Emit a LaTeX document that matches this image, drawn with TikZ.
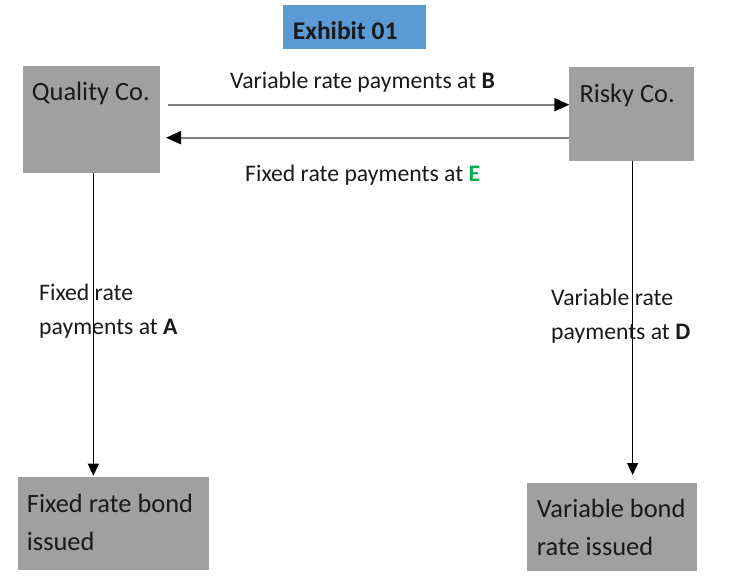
\documentclass[tikz,border=0pt]{standalone}
\usepackage{fontspec}
\setmainfont{Carlito}
\usetikzlibrary{arrows.meta,calc}
\definecolor{boxgray}{HTML}{A0A0A0}
\definecolor{titleblue}{HTML}{5B9BD5}
\definecolor{linegray}{HTML}{7F7F7F}
\definecolor{egreen}{HTML}{00B050}
\definecolor{txt}{HTML}{1A1A1A}
\begin{document}
\begin{tikzpicture}[x=1pt,y=-1pt,
  boxnode/.style={fill=boxgray, draw=none, anchor=north west, inner sep=0pt, outer sep=0pt},
  titlenode/.style={fill=titleblue, draw=none, anchor=north west, inner sep=0pt, outer sep=0pt},
  boxtext/.style={anchor=base west, inner sep=0pt, text=txt, font=\fontsize{26.4}{32}\selectfont},
  titletext/.style={anchor=base west, inner sep=0pt, text=txt, font=\fontsize{25.5}{30}\selectfont\bfseries},
  lbl/.style={anchor=base west, inner sep=0pt, text=txt, font=\fontsize{23.7}{28}\selectfont},
  harrow/.style={draw=linegray, line width=2pt, -{Triangle[length=15pt,width=13pt,color=black]}},
  varrow/.style={draw=black, line width=1.1pt, -{Triangle[length=12pt,width=11pt]}}]
\fill[white] (0,0) rectangle (730,587);
\useasboundingbox (0,0) rectangle (730,587);

% boxes
\node[titlenode, minimum width=142.7pt, minimum height=44pt] (title) at (283.3,5) {};
\node[boxnode, minimum width=137.3pt, minimum height=107.3pt] (quality) at (22.7,65.7) {};
\node[boxnode, minimum width=124.7pt, minimum height=94pt] (risky) at (569.3,66.7) {};
\node[boxnode, minimum width=191pt, minimum height=92.7pt] (fixed) at (17.7,477.3) {};
\node[boxnode, minimum width=169.4pt, minimum height=88.3pt] (variable) at (527.3,482.7) {};

% box texts
\node[titletext] (ttext) at (292.7,39.3) {Exhibit 01};
\node[boxtext] (qtext) at (31.7,100.5) {Quality Co.};
\node[boxtext] (rtext) at (579.3,102) {Risky Co.};
\node[boxtext] (ftext1) at (26.7,512) {Fixed rate bond};
\node[boxtext] (ftext2) at (26.7,550.5) {issued};
\node[boxtext] (vtext1) at (536.7,517) {Variable bond};
\node[boxtext] (vtext2) at (536.7,555.5) {rate issued};

% connectors
\draw[harrow] ([shift={(8,39)}]quality.north east) -- ([shift={(0,38)}]risky.north west);
\draw[harrow] ([shift={(0,71)}]risky.north west) -- ([shift={(6,72)}]quality.north east);
\draw[varrow] ($(quality.south)+(2,0)$) -- ($(quality.south |- fixed.north)+(2,-1.6)$);
\draw[varrow] ($(risky.south)+(1,0)$) -- ($(risky.south |- variable.north)+(1,-7.7)$);

% labels
\node[lbl] (lb) at (230,88.5) {Variable rate payments at \textbf{B}};
\node[lbl] (le) at (245,181) {Fixed rate payments at \textcolor{egreen}{\textbf{E}}};
\node[lbl] (la1) at (39,300) {Fixed rate};
\node[lbl] (la2) at (39,334) {payments at \textbf{A}};
\node[lbl] (ld1) at (551,305.5) {Variable rate};
\node[lbl] (ld2) at (551,339.5) {payments at \textbf{D}};
\end{tikzpicture}
\end{document}
